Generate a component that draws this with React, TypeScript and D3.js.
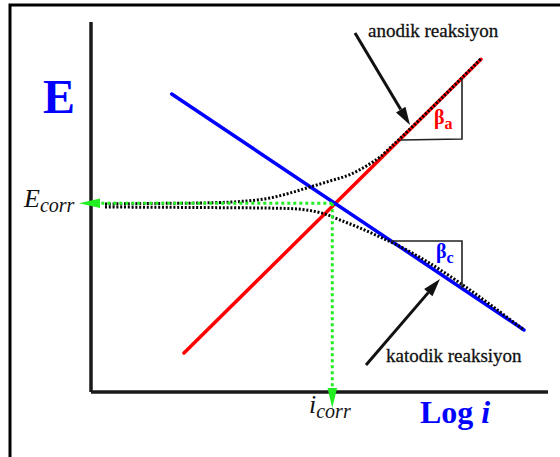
import React from 'react';
import * as d3 from 'd3';

const W = 560;
const H = 457;

// Axis domains: log i on x, potential E on y (arbitrary units)
const xDomain = [0, 10];
const yDomain = [0, 10];

// Tafel lines
const anodicLine = [
  { x: 2.035, y: 1.054 },
  { x: 8.534, y: 8.992 },
];
const cathodicLine = [
  { x: 1.766, y: 8.054 },
  { x: 9.475, y: 1.676 },
];

// Measured (net current) polarization branches
const anodicNet = [
  { x: 0.306, y: 5.081 },
  { x: 1.291, y: 5.095 },
  { x: 2.385, y: 5.108 },
  { x: 3.26, y: 5.149 },
  { x: 3.917, y: 5.243 },
  { x: 4.354, y: 5.378 },
  { x: 4.792, y: 5.541 },
  { x: 5.23, y: 5.703 },
  { x: 5.667, y: 5.878 },
  { x: 6.061, y: 6.135 },
  { x: 6.324, y: 6.351 },
  { x: 6.586, y: 6.649 },
  { x: 8.534, y: 9.01 },
];
const cathodicNet = [
  { x: 0.306, y: 5.0 },
  { x: 2.385, y: 4.986 },
  { x: 3.698, y: 4.973 },
  { x: 4.354, y: 4.959 },
  { x: 4.792, y: 4.905 },
  { x: 5.12, y: 4.811 },
  { x: 5.449, y: 4.649 },
  { x: 5.886, y: 4.432 },
  { x: 6.324, y: 4.189 },
  { x: 6.652, y: 4.0 },
  { x: 9.475, y: 1.676 },
];

// Corrosion point (i_corr, E_corr)
const corrosionPoint = { x: 5.28, y: 5.1 };

// Slope triangles
const betaATriangle = [
  { x: 8.118, y: 8.484 },
  { x: 8.118, y: 6.838 },
  { x: 6.771, y: 6.81 },
];
const betaCTriangle = [
  { x: 6.568, y: 4.081 },
  { x: 8.118, y: 4.081 },
  { x: 8.118, y: 2.799 },
];

// Pointer arrows (start, tip)
const anodicArrow = [
  { x: 5.777, y: 9.703 },
  { x: 6.98, y: 7.216 },
];
const cathodicArrow = [
  { x: 6.018, y: 0.73 },
  { x: 7.637, y: 3.054 },
];

const SERIF = '"Liberation Serif", "Times New Roman", "DejaVu Serif", serif';

function arrowHead(x1: number, y1: number, x2: number, y2: number, len: number, half: number) {
  const dx = x2 - x1;
  const dy = y2 - y1;
  const d = Math.hypot(dx, dy);
  const ux = dx / d;
  const uy = dy / d;
  const bx = x2 - ux * len;
  const by = y2 - uy * len;
  const nx = -uy;
  const ny = ux;
  return {
    base: [bx, by],
    points: `${x2},${y2} ${bx + nx * half},${by + ny * half} ${bx - nx * half},${by - ny * half}`,
  };
}

export default function App() {
  const x = d3.scaleLinear().domain(xDomain).range([91, 548]);
  const y = d3.scaleLinear().domain(yDomain).range([392, 22]);

  const straight = d3
    .line<{ x: number; y: number }>()
    .x((d) => x(d.x))
    .y((d) => y(d.y));
  const smooth = d3
    .line<{ x: number; y: number }>()
    .x((d) => x(d.x))
    .y((d) => y(d.y))
    .curve(d3.curveMonotoneX);

  const cx = x(corrosionPoint.x);
  const cy = y(corrosionPoint.y);
  const x0 = x(xDomain[0]);
  const y0 = y(yDomain[0]);

  const gH = arrowHead(cx, cy, x0 - 12, cy, 21, 4.8);
  const gV = arrowHead(cx, cy, cx, y0 + 16, 20, 4.8);

  const blackArrow = (pts: { x: number; y: number }[]) => {
    const x1 = x(pts[0].x);
    const y1 = y(pts[0].y);
    const x2 = x(pts[1].x);
    const y2 = y(pts[1].y);
    const h = arrowHead(x1, y1, x2, y2, 18, 5.5);
    return (
      <g>
        <line x1={x1} y1={y1} x2={h.base[0]} y2={h.base[1]} stroke="#111" strokeWidth={3} />
        <polygon points={h.points} fill="#111" />
      </g>
    );
  };

  return (
    <svg
      width={W}
      height={H}
      style={{ position: 'absolute', left: 0, top: 0, background: '#fff' }}
    >
      {/* outer frame */}
      <rect x={10} y={5} width={W + 20} height={H + 20} fill="none" stroke="#000" strokeWidth={3} />

      {/* axes */}
      <line x1={x0} y1={y(yDomain[1])} x2={x0} y2={y0} stroke="#1a1a1a" strokeWidth={3.5} />
      <line x1={x0} y1={y0} x2={x(xDomain[1])} y2={y0} stroke="#1a1a1a" strokeWidth={3.5} />

      {/* Tafel lines */}
      <path d={straight(anodicLine) || ''} stroke="#ff0000" strokeWidth={3.5} fill="none" strokeLinecap="round" />
      <path d={straight(cathodicLine) || ''} stroke="#0000ff" strokeWidth={3.5} fill="none" strokeLinecap="round" />

      {/* net polarization curves */}
      <path d={smooth(anodicNet) || ''} stroke="#000" strokeWidth={3} strokeDasharray="2 1.8" fill="none" />
      <path d={smooth(cathodicNet) || ''} stroke="#000" strokeWidth={3} strokeDasharray="2 1.8" fill="none" />

      {/* E_corr and i_corr guides */}
      <line x1={cx} y1={cy} x2={gH.base[0]} y2={cy} stroke="#22ee22" strokeWidth={3} strokeDasharray="3 3" />
      <polygon points={gH.points} fill="#22ee22" />
      <line x1={cx} y1={cy} x2={cx} y2={gV.base[1]} stroke="#22ee22" strokeWidth={3} strokeDasharray="3 3" />
      <polygon points={gV.points} fill="#22ee22" />

      {/* slope triangles */}
      <path d={(straight(betaATriangle) || '')} stroke="#222" strokeWidth={1.6} fill="none" />
      <path d={(straight(betaCTriangle) || '')} stroke="#222" strokeWidth={1.6} fill="none" />

      {/* pointers */}
      {blackArrow(anodicArrow)}
      {blackArrow(cathodicArrow)}

      {/* labels */}
      <text x={43} y={113} fontFamily={SERIF} fontWeight="bold" fontSize={48} fill="#0000ff">E</text>
      <text x={420} y={423} fontFamily={SERIF} fontWeight="bold" fontSize={32} fill="#0000ff">
        Log <tspan fontStyle="italic">i</tspan>
      </text>

      <text x={24} y={207} fontFamily={SERIF} fontStyle="italic" fontSize={26} fill="#111">
        E<tspan fontSize={20} dy={5}>corr</tspan>
      </text>
      <text x={309} y={413} fontFamily={SERIF} fontStyle="italic" fontSize={26} fill="#111">
        i<tspan fontSize={20} dy={5}>corr</tspan>
      </text>

      <text x={434} y={124} fontFamily={SERIF} fontWeight="bold" fontSize={20} fill="#ff0000">
        β<tspan fontSize={16} dy={5}>a</tspan>
      </text>
      <text x={436} y={258} fontFamily={SERIF} fontWeight="bold" fontSize={20} fill="#0000ff">
        β<tspan fontSize={16} dy={5}>c</tspan>
      </text>

      <text x={368} y={37} fontFamily={SERIF} fontSize={19} fill="#111" stroke="#111" strokeWidth={0.3}>anodik reaksiyon</text>
      <text x={386} y={362} fontFamily={SERIF} fontSize={19} fill="#111" stroke="#111" strokeWidth={0.3}>katodik reaksiyon</text>
    </svg>
  );
}
